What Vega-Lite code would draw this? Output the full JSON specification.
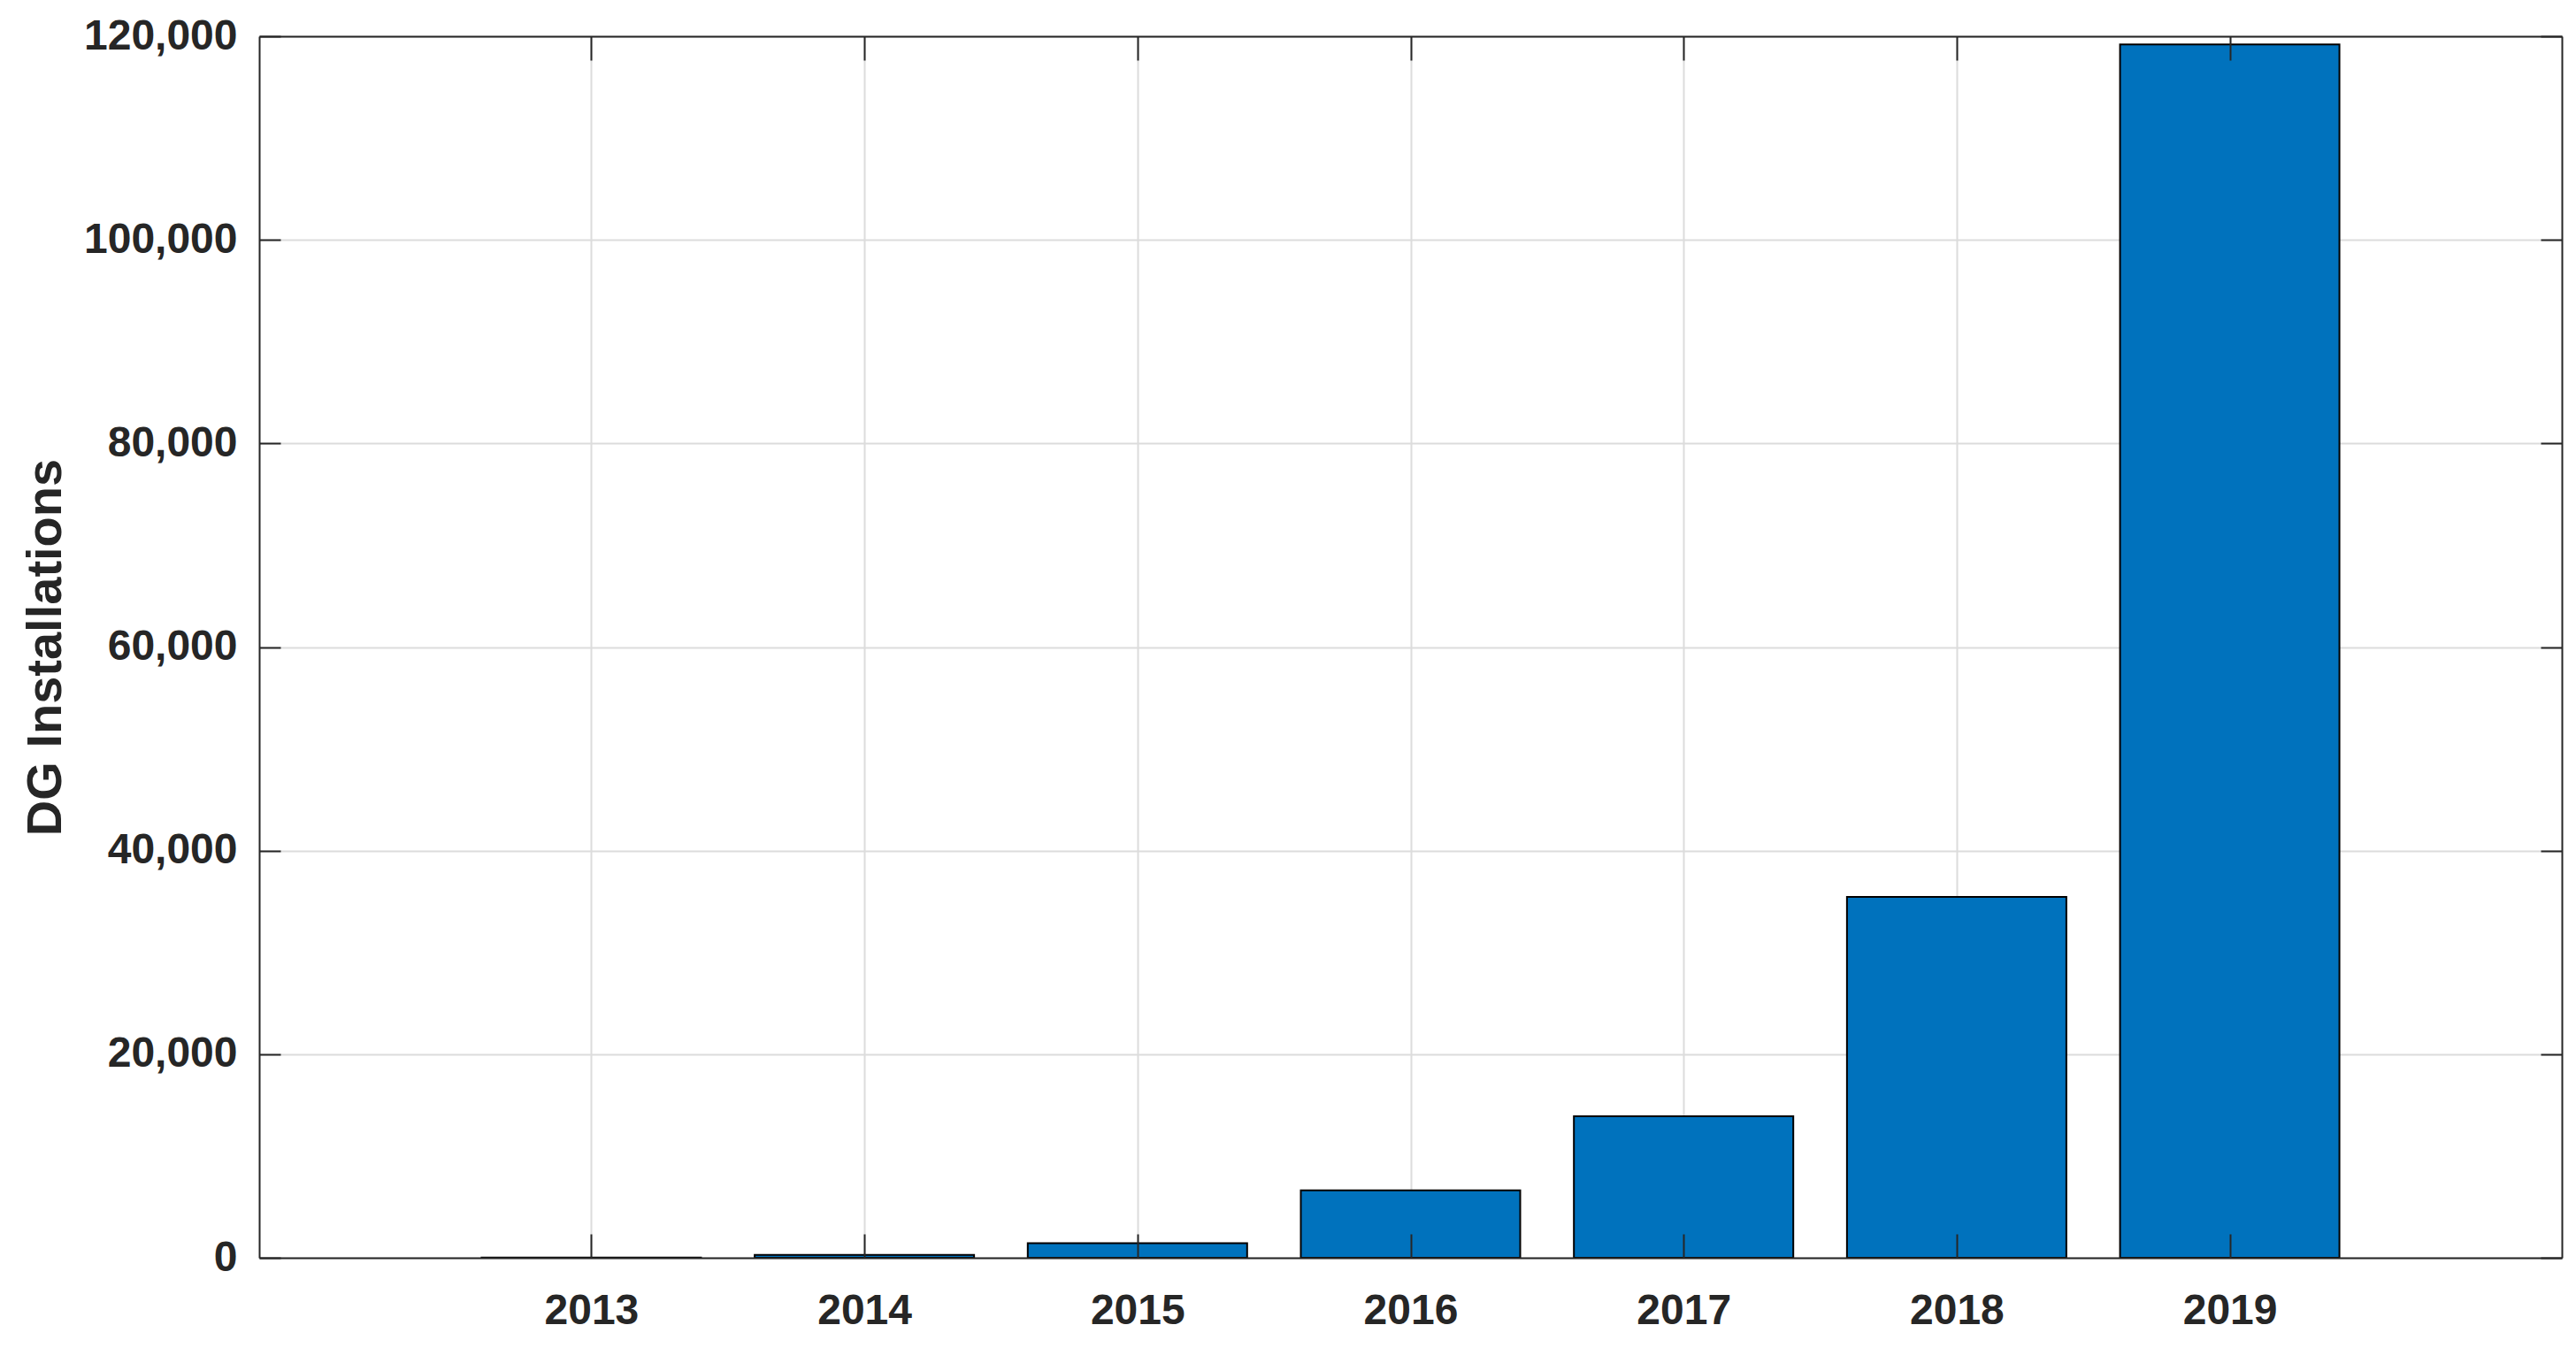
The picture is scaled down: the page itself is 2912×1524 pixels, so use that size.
{
  "$schema": "https://vega.github.io/schema/vega-lite/v6.json",
  "autosize": {"type": "none"},
  "width": 2603,
  "height": 1381,
  "padding": {"left": 293, "top": 41, "right": 16, "bottom": 102},
  "background": "white",
  "config": {
    "view": {"stroke": null},
    "axis": {
      "labelFont": "Liberation Sans",
      "labelFontWeight": "bold",
      "labelFontSize": 48,
      "labelColor": "#262626",
      "titleFont": "Liberation Sans",
      "titleFontWeight": "bold",
      "titleFontSize": 56,
      "titleColor": "#262626",
      "domainColor": "#262626",
      "domainWidth": 2,
      "tickColor": "#262626",
      "tickWidth": 2,
      "gridColor": "#dcdcdc",
      "gridWidth": 2
    }
  },
  "data": {
    "values": [
      {"year": 2013, "installs": 20},
      {"year": 2014, "installs": 280},
      {"year": 2015, "installs": 1430},
      {"year": 2016, "installs": 6630},
      {"year": 2017, "installs": 13900},
      {"year": 2018, "installs": 35450},
      {"year": 2019, "installs": 119200}
    ]
  },
  "resolve": {"axis": {"x": "independent", "y": "independent"}},
  "layer": [
    {
      "mark": {"type": "bar", "opacity": 0, "width": 248},
      "encoding": {
        "x": {"field": "year", "type": "quantitative",
              "scale": {"domain": [2011.8, 2020.2], "nice": false, "zero": false},
              "axis": {"orient": "top", "values": [2013, 2014, 2015, 2016, 2017, 2018, 2019],
                       "grid": true, "ticks": false, "labels": false, "domain": false, "title": null, "zindex": 0}},
        "y": {"field": "installs", "type": "quantitative",
              "scale": {"domain": [0, 120000], "nice": false},
              "axis": {"orient": "right", "values": [0, 20000, 40000, 60000, 80000, 100000, 120000],
                       "grid": true, "ticks": false, "labels": false, "domain": false, "title": null, "zindex": 0}}
      }
    },
    {
      "mark": {"type": "bar", "color": "#0072BD", "stroke": "#000000", "strokeWidth": 2, "width": 248},
      "encoding": {
        "x": {"field": "year", "type": "quantitative",
              "axis": {"orient": "bottom", "values": [2013, 2014, 2015, 2016, 2017, 2018, 2019], "format": "d",
                       "grid": false, "tickSize": -27, "labelPadding": 63, "title": null, "zindex": 1}},
        "y": {"field": "installs", "type": "quantitative",
              "axis": {"orient": "left", "values": [0, 20000, 40000, 60000, 80000, 100000, 120000], "format": ",d",
                       "grid": false, "tickSize": -24, "labelPadding": 49, "title": "DG Installations", "titlePadding": 14, "zindex": 1}}
      }
    },
    {
      "mark": {"type": "bar", "opacity": 0, "width": 248},
      "encoding": {
        "x": {"field": "year", "type": "quantitative",
              "axis": {"orient": "top", "values": [2013, 2014, 2015, 2016, 2017, 2018, 2019],
                       "grid": false, "tickSize": -27, "labels": false, "title": null, "zindex": 1}},
        "y": {"field": "installs", "type": "quantitative",
              "axis": {"orient": "right", "values": [0, 20000, 40000, 60000, 80000, 100000, 120000],
                       "grid": false, "tickSize": -24, "labels": false, "title": null, "zindex": 1}}
      }
    }
  ]
}
